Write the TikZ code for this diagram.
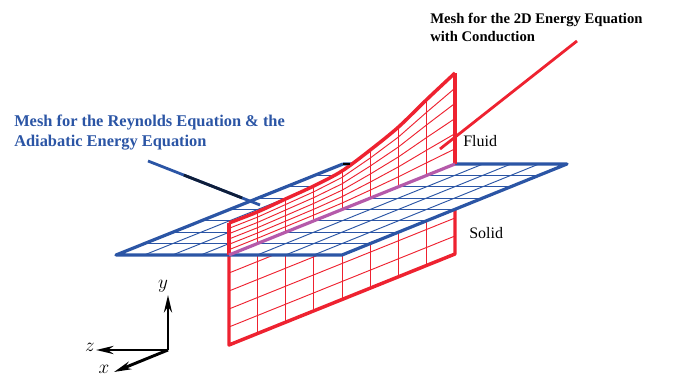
\documentclass[tikz,border=0pt]{standalone}
\usepackage{fontspec}
\setmainfont{Liberation Serif}
\usetikzlibrary{calc,arrows.meta}

\definecolor{meshblue}{RGB}{43,85,165}
\definecolor{meshred}{RGB}{238,34,48}
\definecolor{meshpurple}{RGB}{181,90,170}

\begin{document}
\begin{tikzpicture}[
    x=0.75pt, y=-0.75pt,
    % outer edges of the two meshes
    plateedge/.style={meshblue, line width=2.4pt, line join=round},
    walledge/.style={meshred, line width=2.6pt, line join=round},
    % inner grid lines
    plategrid/.style={meshblue, line width=0.7pt},
    wallgrid/.style={meshred, line width=0.7pt},
    % leader lines
    leader/.style={line width=2.1pt},
    % coordinate axes
    axis/.style={line width=2.2pt, -{Stealth[length=13pt, width=6pt]}},
    % labels
    title/.style={font=\bfseries\fontsize{11}{13.6}\selectfont, align=left, anchor=west, inner sep=0pt},
    bluetitle/.style={font=\bfseries\fontsize{12.3}{14.5}\selectfont, align=left, anchor=west, inner sep=0pt, text=meshblue},
    label/.style={font=\fontsize{12}{14}\selectfont, anchor=west, inner sep=0pt},
    axislabel/.style={font=\Large, inner sep=0pt}
]
    \useasboundingbox (0,0) rectangle (683,377);

    % 1. key coordinates
    \coordinate (plateA) at (116,255);
    \coordinate (plateB) at (342,255);
    \coordinate (plateC) at (567,164);
    \coordinate (plateD) at (343,164);
    \foreach \n/\ytop in {0/223, 1/212, 2/199, 3/186, 4/171, 5/150, 6/127, 7/99.5, 8/73} {
        \coordinate (i\n) at ({229+28.25*\n},{255-11.375*\n});  % interface
        \coordinate (t\n) at ({229+28.25*\n},\ytop);            % top of fluid
        \coordinate (b\n) at ({229+28.25*\n},{345-11.375*\n});  % bottom of solid
    }

    % 2. solid part of the red mesh
    \foreach \n in {1,...,7} \draw[wallgrid] (i\n) -- (b\n);
    \foreach \k in {1,...,4} \draw[wallgrid] ($(i0)!\k/5!(b0)$) -- ($(i8)!\k/5!(b8)$);
    \draw[walledge] (i0) -- (b0) -- (b8) -- (i8);

    % 3. blue mesh, hides what lies behind it
    \fill[white] (plateA) -- (plateB) -- (plateC) -- (plateD) -- cycle;
    \foreach \k in {1,...,7} {
        \draw[plategrid] ($(plateA)!\k/8!(plateD)$) -- ($(plateB)!\k/8!(plateC)$);
        \draw[plategrid] ($(plateA)!\k/8!(plateB)$) -- ($(plateD)!\k/8!(plateC)$);
    }
    \draw[plateedge] (plateD) -- (plateA) -- (plateB) -- (plateC) -- (plateD);

    % 4. fluid part of the red mesh
    \fill[white] (i0) \foreach \n in {1,...,8} { -- (i\n) }
        \foreach \n in {8,7,...,0} { -- (t\n) } -- cycle;
    \foreach \n in {1,...,7} \draw[wallgrid] (i\n) -- (t\n);
    \foreach \k in {1,...,5}
        \draw[wallgrid] ($(i0)!\k/6!(t0)$) \foreach \n in {1,...,8} { -- ($(i\n)!\k/6!(t\n)$) };
    \draw[walledge] (i8) -- (t8);
    \draw[walledge] (i0) -- (t0);
    \draw[walledge] plot[smooth] coordinates {(t0) (t1) (t2) (t3) (t4) (t5) (t6) (t7) (t8)};
    \draw[meshpurple, line width=2.4pt] (i0) -- (i8);
    \draw[line width=2.2pt] (343,164) -- (350,164);

    % 5. titles and their leader lines
    \node[title] (fluidmesh) at (430,27.5) {Mesh for the 2D Energy Equation\\with Conduction};
    \node[bluetitle] (platemesh) at (14,132.5) {Mesh for the Reynolds Equation \& the\\Adiabatic Energy Equation};
    \coordinate (fluidstart) at (577,41);
    \coordinate (fluidend) at (440,149);
    \coordinate (platestart) at (148,161);
    \coordinate (plateend) at (260,205);
    \draw[leader, meshred] (fluidstart) -- (fluidend);
    \draw[leader, meshblue] (platestart) -- (plateend);
    \draw[leader, black!65!meshblue] ($(platestart)!0.32!(plateend)$) -- ($(platestart)!0.84!(plateend)$);

    % 6. fluid and solid labels
    \node[label] (fluidlabel) at (463,141) {Fluid};
    \node[label] (solidlabel) at (469,233) {Solid};

    % 7. coordinate axes
    \coordinate (origin) at (168,350);
    \node[axislabel] (ylabel) at (163,286) {\(y\)};
    \node[axislabel] (zlabel) at (90,347) {\(z\)};
    \node[axislabel] (xlabel) at (104,369) {\(x\)};
    \coordinate (yend) at (168,295);
    \coordinate (zend) at (96,350);
    \coordinate (xend) at (114,372);
    \draw[axis] (origin) -- (yend);
    \draw[axis] (origin) -- (zend);
    \draw[axis] (origin) -- (xend);
\end{tikzpicture}
\end{document}
